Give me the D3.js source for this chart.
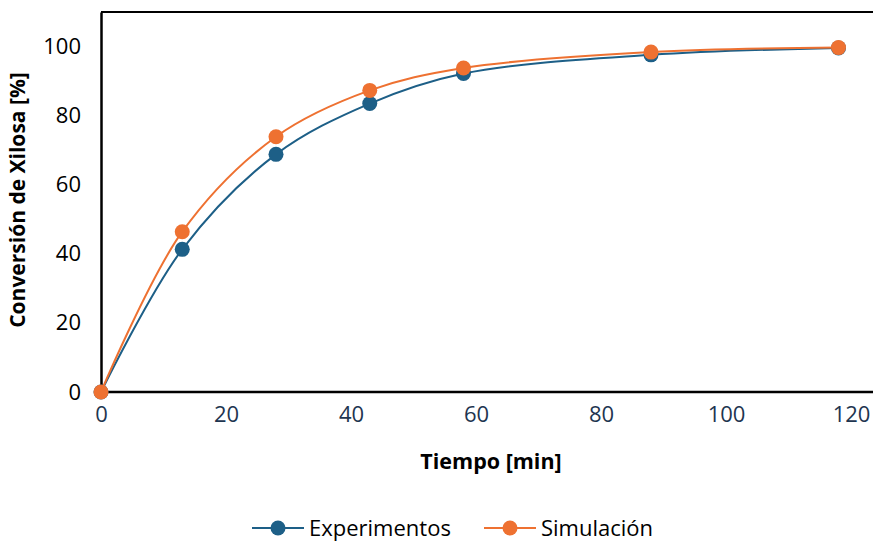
<!DOCTYPE html>
<html>
<head>
<meta charset="utf-8">
<script src="https://cdn.jsdelivr.net/npm/d3@7"></script>
<style>
  body { margin: 0; background: #fff; }
  text { font-family: "Open Sans", "Noto Sans", sans-serif; }
</style>
</head>
<body>
<svg width="873" height="542"></svg>
<script>
// datos
var tiempo = [0, 13, 28, 43, 58, 88, 118];
var experimentos = [0, 41.3, 68.8, 83.5, 92.2, 97.6, 99.6];
var simulacion = [0, 46.4, 73.9, 87.3, 93.8, 98.4, 99.7];
var xTicks = [0, 20, 40, 60, 80, 100, 120];
var yTicks = [0, 20, 40, 60, 80, 100];

var series = [
  { name: "Experimentos", values: experimentos, color: "#1d5f87" },
  { name: "Simulación", values: simulacion, color: "#ee7131" }
];

var svg = d3.select("svg");

var xScale = d3.scaleLinear().domain([0, 120]).range([101, 851]);
var yScale = d3.scaleLinear().domain([0, 110]).range([392, 12]);

// marco
svg.append("line")
  .attr("x1", 101).attr("x2", 873)
  .attr("y1", yScale(110)).attr("y2", yScale(110))
  .attr("stroke", "#000").attr("stroke-width", 2);

var xAxis = svg.append("g")
  .attr("transform", "translate(0," + yScale(0) + ")")
  .call(d3.axisBottom(xScale).tickValues(xTicks).tickSize(0).tickPadding(14));
xAxis.select(".domain").attr("d", "M101,0H873").attr("stroke", "#000").attr("stroke-width", 2.5);
xAxis.selectAll("text").attr("font-size", 22).attr("fill", "#1e3550");

var yAxis = svg.append("g")
  .attr("transform", "translate(" + xScale(0) + ",0)")
  .call(d3.axisLeft(yScale).tickValues(yTicks).tickSize(0).tickPadding(20));
yAxis.select(".domain").attr("stroke", "#000").attr("stroke-width", 2.5);
yAxis.selectAll("text").attr("font-size", 22).attr("fill", "#000");

// títulos de ejes
svg.append("text")
  .attr("x", 491).attr("y", 469)
  .attr("text-anchor", "middle")
  .attr("font-size", 21.5).attr("font-weight", "bold")
  .text("Tiempo [min]");

svg.append("text")
  .attr("transform", "translate(25,200) rotate(-90)")
  .attr("text-anchor", "middle")
  .attr("font-size", 21).attr("font-weight", "bold")
  .text("Conversión de Xilosa [%]");

var lineGenerator = d3.line()
  .x(function (d, i) { return xScale(tiempo[i]); })
  .y(function (d) { return yScale(d); })
  .curve(d3.curveCatmullRom.alpha(0.5));

series.forEach(function (s) {
  var g = svg.append("g");
  g.append("path")
    .datum(s.values)
    .attr("fill", "none")
    .attr("stroke", s.color)
    .attr("stroke-width", 2)
    .attr("d", lineGenerator);
  g.selectAll("circle")
    .data(s.values)
    .enter()
    .append("circle")
    .attr("cx", function (d, i) { return xScale(tiempo[i]); })
    .attr("cy", function (d) { return yScale(d); })
    .attr("r", 7.5)
    .attr("fill", s.color);
});

// leyenda
var legendX = [252, 484];
series.forEach(function (s, i) {
  var lg = svg.append("g").attr("transform", "translate(" + legendX[i] + ",528)");
  lg.append("line")
    .attr("x1", 0).attr("x2", 52)
    .attr("stroke", s.color).attr("stroke-width", 2);
  lg.append("circle").attr("cx", 26).attr("r", 7.5).attr("fill", s.color);
  lg.append("text")
    .attr("x", 57).attr("y", 7.5)
    .attr("font-size", 22).attr("fill", "#000")
    .text(s.name);
});
</script>
</body>
</html>
